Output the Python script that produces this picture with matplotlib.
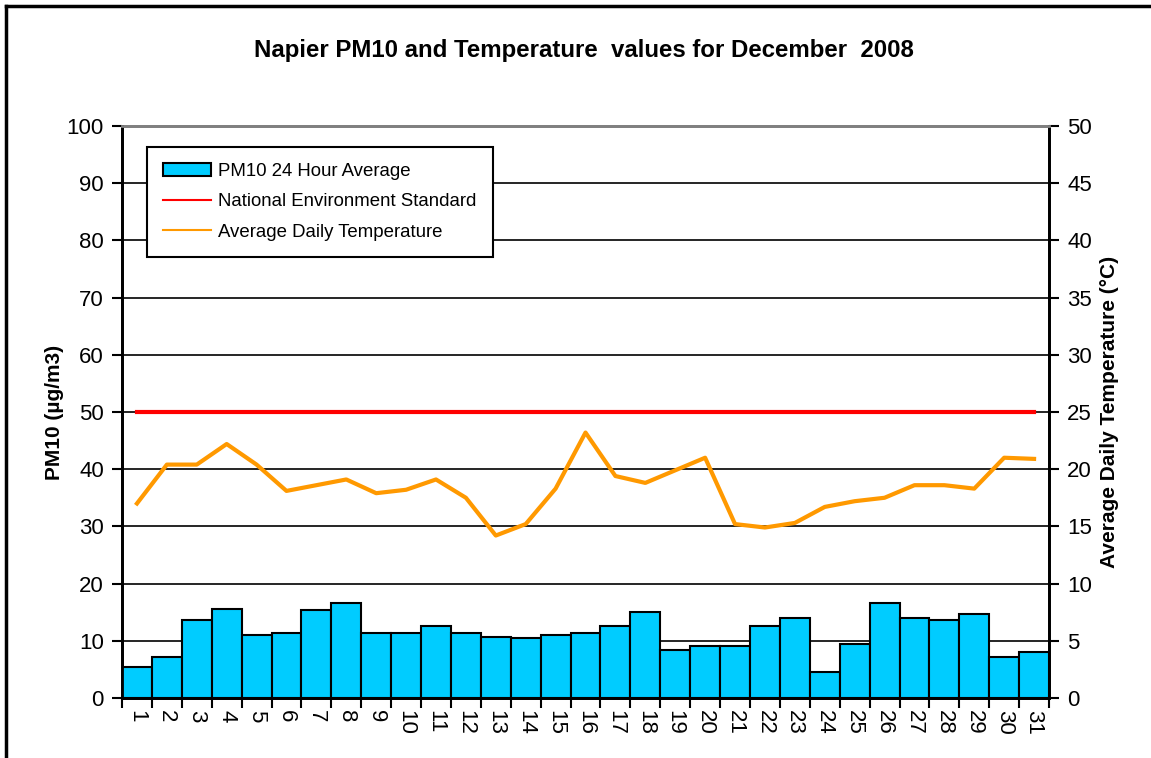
import numpy as np
import matplotlib
matplotlib.use('Agg')
import matplotlib.pyplot as plt
from matplotlib.lines import Line2D
from matplotlib.patches import Patch

plt.rcParams['font.family'] = ['Liberation Sans', 'DejaVu Sans']

# Datos
dias = list(range(1, 32))
pm10 = [5.5, 7.2, 13.6, 15.6, 11.0, 11.4, 15.3, 16.6, 11.4, 11.4,
        12.6, 11.4, 10.7, 10.4, 11.0, 11.4, 12.6, 15.0, 8.4, 9.1,
        9.1, 12.6, 13.9, 4.5, 9.4, 16.6, 13.9, 13.6, 14.6, 7.1, 8.0]
temperatura = [17.0, 20.4, 20.4, 22.2, 20.4, 18.1, 18.6, 19.1, 17.9, 18.2,
               19.1, 17.5, 14.2, 15.2, 18.3, 23.2, 19.4, 18.8, 19.9, 21.0,
               15.2, 14.9, 15.3, 16.7, 17.2, 17.5, 18.6, 18.6, 18.3, 21.0, 20.9]
estandar = 50

fig = plt.figure(figsize=(11.51, 7.58), dpi=100)
ax = fig.add_axes([0.106, 0.0792, 0.8054, 0.7546])
ax2 = ax.twinx()

x = np.arange(len(dias))
ax.bar(x, pm10, width=1.0, color='#00CCFF', edgecolor='black', linewidth=1.5, zorder=3)
ax.plot([x[0], x[-1]], [estandar, estandar], color='#FF0000', linewidth=3, zorder=4)
ax2.plot(x, temperatura, color='#FF9900', linewidth=3, zorder=4)

ax.set_xlim(-0.5, len(dias) - 0.5)
ax.set_ylim(0, 100)
ax2.set_ylim(0, 50)
ax.set_yticks(range(0, 101, 10))
ax2.set_yticks(range(0, 51, 5))

ax.yaxis.grid(True, color='black', linewidth=1.2, zorder=0)
ax.set_axisbelow(True)

# ticks del eje x entre barras, etiquetas en el centro
ax.set_xticks(np.arange(-0.5, len(dias), 1.0))
ax.set_xticklabels([])
ax.set_xticks(x, minor=True)
ax.set_xticklabels([str(d) for d in dias], minor=True, rotation=-90, fontsize=16)
ax.tick_params(axis='x', which='major', direction='out', length=7, width=1.5)
ax.tick_params(axis='x', which='minor', length=0, pad=9)
ax.tick_params(axis='y', direction='out', length=7, width=1.5, labelsize=16, pad=6)
ax2.tick_params(axis='y', direction='out', length=7, width=1.5, labelsize=16, pad=6)

for a in (ax, ax2):
    a.spines['left'].set_linewidth(2)
    a.spines['right'].set_linewidth(2)
    a.spines['bottom'].set_linewidth(2)
    a.spines['top'].set_color('#808080')
    a.spines['top'].set_linewidth(2)

ax.set_ylabel('PM10 (µg/m3)', fontsize=15, fontweight='bold', labelpad=2)
ax2.set_ylabel('Average Daily Temperature (°C)', fontsize=15, fontweight='bold', labelpad=6)

fig.text(0.507, 0.934, 'Napier PM10 and Temperature  values for December  2008',
         ha='center', va='center', fontsize=17.3, fontweight='bold')

handles = [Patch(facecolor='#00CCFF', edgecolor='black', linewidth=1.5),
           Line2D([], [], color='#FF0000', linewidth=1.5),
           Line2D([], [], color='#FF9900', linewidth=1.5)]
labels = ['PM10 24 Hour Average', 'National Environment Standard', 'Average Daily Temperature']
leg = ax2.legend(handles, labels, loc='upper left', bbox_to_anchor=(0.027, 0.963),
                 fontsize=13.4, frameon=True, fancybox=False, framealpha=1,
                 edgecolor='black', borderpad=0.85, labelspacing=0.72,
                 handlelength=2.6, handletextpad=0.38, borderaxespad=0)
leg.get_frame().set_linewidth(1.5)

# marco exterior del grafico
fig.add_artist(Line2D([6 / 1151, 6 / 1151], [0, 1 - 6 / 758], color='black', linewidth=2.5,
                      transform=fig.transFigure))
fig.add_artist(Line2D([6 / 1151, 1], [1 - 6 / 758, 1 - 6 / 758], color='black', linewidth=2.5,
                      transform=fig.transFigure))

fig.savefig('out.png', dpi=100)
